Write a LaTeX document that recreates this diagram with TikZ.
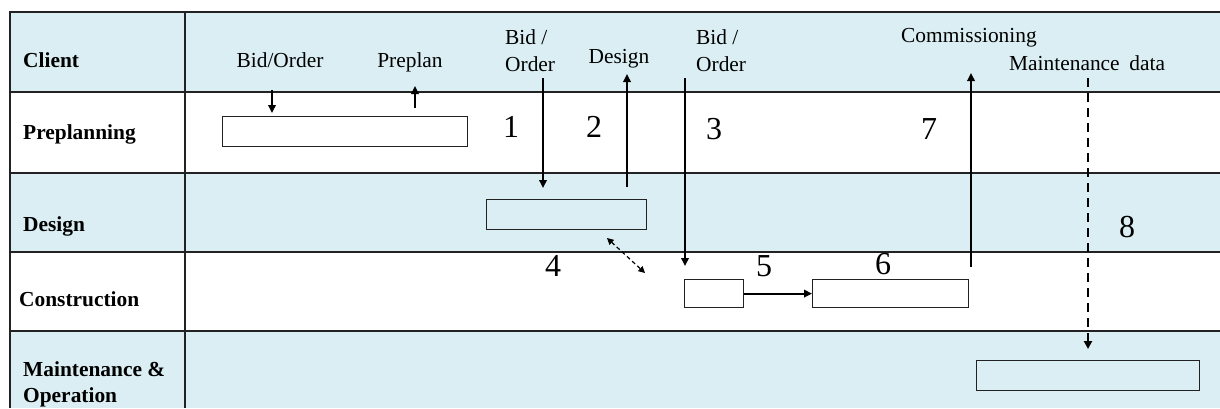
\documentclass[tikz,border=0pt]{standalone}
\usepackage{fontspec}
\setmainfont{Liberation Serif}
\usetikzlibrary{arrows.meta}
\definecolor{lb}{HTML}{DAEEF3}
\definecolor{ln}{HTML}{222222}
\begin{document}
\begin{tikzpicture}[x=1pt,y=-1pt,
  tbl/.style={line width=1.5pt, draw=ln},
  box/.style={draw=ln, line width=1.2pt, inner sep=0pt, anchor=north west},
  lbl/.style={inner sep=0pt, font=\fontsize{21.4}{27}\selectfont},
  hdr/.style={inner sep=0pt, anchor=base west, align=left, font=\fontsize{21.4}{26}\selectfont\bfseries},
  num/.style={inner sep=0pt, anchor=base, font=\fontsize{32}{36}\selectfont},
  arr/.style={line width=1.8pt, -{Triangle[length=8pt,width=7.5pt]}},
  darr/.style={line width=2pt, dash pattern=on 9pt off 6pt, -{Triangle[length=8pt,width=8pt]}},
  dbl/.style={line width=1.2pt, dash pattern=on 4pt off 3pt, {Triangle[length=6.5pt,width=6.5pt]}-{Triangle[length=6.5pt,width=6.5pt]}}]
\useasboundingbox (0,0) rectangle (1220,408);
% row backgrounds
\fill[lb] (10,12) rectangle (1220,92);
\fill[white] (10,92) rectangle (1220,173);
\fill[lb] (10,173) rectangle (1220,252);
\fill[white] (10,252) rectangle (1220,331);
\fill[lb] (10,331) rectangle (1220,408);
% grid
\draw[tbl] (1220,12) -- (10,12) -- (10,408);
\draw[tbl] (185,12) -- (185,408);
\foreach \yy in {92,173,252,331} \draw[tbl] (10,\yy) -- (1220,\yy);
% row headers
\node[hdr] (hc) at (23,67.5) {Client};
\node[hdr] (hp) at (23,139) {Preplanning};
\node[hdr] (hd) at (23,231) {Design};
\node[hdr] (hk) at (19,306) {Construction};
\node[hdr] (hm) at (23,402) {Maintenance \&\\Operation};
% labels
\node[lbl, anchor=base] (t1) at (280,67) {Bid/Order};
\node[lbl, anchor=base] (t2) at (410,67) {Preplan};
\node[lbl, anchor=base west, align=left] (t3) at (505,71) {Bid /\\Order};
\node[lbl, anchor=base] (t4) at (619,63) {Design};
\node[lbl, anchor=base west, align=left] (t5) at (696,71) {Bid /\\Order};
\node[lbl, anchor=base west] (t6) at (901,42) {Commissioning};
\node[lbl, anchor=base west] (t7) at (1009,70) {Maintenance\hspace{0.2em} data};
% numbers
\node[num] (n1) at (511,137) {1};
\node[num] (n2) at (594,137) {2};
\node[num] (n3) at (714,139) {3};
\node[num] (n7) at (929,139) {7};
\node[num] (n4) at (553,276) {4};
\node[num] (n5) at (764,276) {5};
\node[num] (n6) at (883,274) {6};
\node[num] (n8) at (1127,237) {8};
% boxes
\node[box, fill=white, minimum width=245pt, minimum height=30pt] (bp) at (222,116) {};
\node[box, fill=lb, minimum width=160pt, minimum height=30pt] (bd) at (486,199) {};
\node[box, fill=white, minimum width=59pt, minimum height=28pt] (bc1) at (684,279) {};
\node[box, fill=white, minimum width=156pt, minimum height=28pt] (bc2) at (812,279) {};
\node[box, fill=lb, minimum width=223pt, minimum height=30pt] (bm) at (976,360) {};
% arrow end points
\coordinate (a1s) at (272,90);  \coordinate (a1e) at (272,113);
\coordinate (a2s) at (415,108); \coordinate (a2e) at (415,86);
\coordinate (a3s) at (543,78);  \coordinate (a3e) at (543,188);
\coordinate (a4s) at (627,187); \coordinate (a4e) at (627,74);
\coordinate (a5s) at (685,78);  \coordinate (a5e) at (685,266);
\coordinate (a7s) at (971,267); \coordinate (a7e) at (971,73);
\coordinate (a8s) at (1088,78); \coordinate (a8e) at (1088,349);
\coordinate (d1) at (607,238);  \coordinate (d2) at (645,273);
% connectors
\draw[arr] (a1s) -- (a1e);
\draw[arr] (a2s) -- (a2e);
\draw[arr] (a3s) -- (a3e);
\draw[arr] (a4s) -- (a4e);
\draw[arr] (a5s) -- (a5e);
\draw[arr] (a7s) -- (a7e);
\draw[darr] (a8s) -- (a8e);
\draw[dbl] (d1) -- (d2);
\draw[arr] (bc1.east) -- (bc2.west);
\end{tikzpicture}
\end{document}
